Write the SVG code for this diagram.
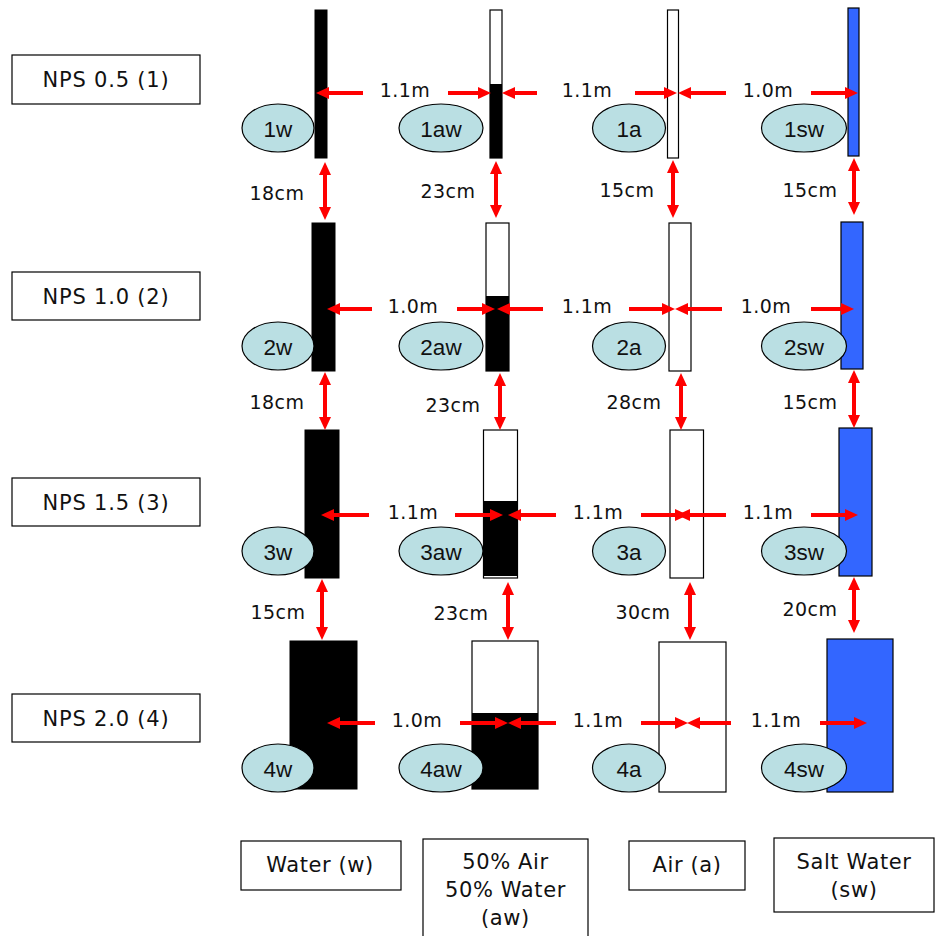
<svg xmlns="http://www.w3.org/2000/svg" width="935" height="936" viewBox="0 0 935 936">
<style>
.bg{fill:#fff}
.box{fill:#fff;stroke:#000;stroke-width:1.2}
.nps{font-family:"DejaVu Sans",Verdana,sans-serif;font-size:21px;letter-spacing:0.8px;fill:#111;text-anchor:middle}
.mat{font-family:"DejaVu Sans",Verdana,sans-serif;font-size:21px;letter-spacing:0.6px;fill:#111;text-anchor:middle}
.tw{fill:#000;stroke:#000;stroke-width:1}
.ta{fill:#fff;stroke:#000;stroke-width:1.2}
.tb{fill:#000}
.ts{fill:#3366FF;stroke:#000;stroke-width:1.2}
.ell{fill:#BADFE3;stroke:#000;stroke-width:1.2}
.lbl{font-family:"Liberation Sans",Arial,sans-serif;font-size:22.5px;fill:#111;text-anchor:middle}
.arr{stroke:#f00;stroke-width:4;fill:none}
.h{marker-end:url(#ah)}
.v{marker-start:url(#ah);marker-end:url(#ah)}
.dim{font-family:"DejaVu Sans",Verdana,sans-serif;font-size:19px;letter-spacing:0.5px;fill:#111;text-anchor:middle}
</style>
<defs>
<marker id="ah" markerUnits="userSpaceOnUse" markerWidth="13" markerHeight="12" viewBox="0 0 13 12" refX="3" refY="6" orient="auto-start-reverse"><path d="M0,0 L13,6 L0,12 z" fill="#f00"/></marker>
</defs>
<rect class="bg" x="0" y="0" width="935" height="936"/>

<g id="row-labels">
<g id="nps05"><rect class="box" x="12" y="55" width="188" height="49"/><text class="nps" x="106" y="87">NPS 0.5 (1)</text></g>
<g id="nps10"><rect class="box" x="12" y="272" width="188" height="48"/><text class="nps" x="106" y="304">NPS 1.0 (2)</text></g>
<g id="nps15"><rect class="box" x="12" y="478" width="188" height="48"/><text class="nps" x="106" y="510">NPS 1.5 (3)</text></g>
<g id="nps20"><rect class="box" x="12" y="694" width="188" height="48"/><text class="nps" x="106" y="726">NPS 2.0 (4)</text></g>
</g>

<g id="legend">
<g id="leg-w"><rect class="box" x="241" y="841" width="160" height="49"/><text class="mat" x="320" y="872">Water (w)</text></g>
<g id="leg-aw"><rect class="box" x="423" y="839" width="165" height="100"/><text class="mat" x="505.5" y="869">50% Air</text><text class="mat" x="505.5" y="897">50% Water</text><text class="mat" x="505.5" y="925">(aw)</text></g>
<g id="leg-a"><rect class="box" x="629" y="841" width="116" height="49"/><text class="mat" x="687" y="872">Air (a)</text></g>
<g id="leg-sw"><rect class="box" x="774" y="838" width="160" height="74"/><text class="mat" x="854" y="869">Salt Water</text><text class="mat" x="854" y="897">(sw)</text></g>
</g>

<g id="n1w"><rect class="tw" x="315" y="10" width="12" height="148"/><ellipse class="ell" cx="278" cy="128" rx="36" ry="24"/><text class="lbl" x="278" y="137">1w</text></g>
<g id="n1aw"><rect class="ta" x="490" y="10" width="12" height="148"/><rect class="tb" x="490" y="84" width="12" height="74"/><ellipse class="ell" cx="441" cy="128" rx="42" ry="24"/><text class="lbl" x="441" y="137">1aw</text></g>
<g id="n1a"><rect class="ta" x="667.5" y="10" width="11" height="148"/><ellipse class="ell" cx="629" cy="128" rx="36.5" ry="24"/><text class="lbl" x="629" y="137">1a</text></g>
<g id="n1sw"><rect class="ts" x="848" y="8" width="11" height="148"/><ellipse class="ell" cx="804" cy="128" rx="42.5" ry="24"/><text class="lbl" x="804" y="137">1sw</text></g>

<g id="n2w"><rect class="tw" x="312" y="223" width="23" height="148"/><ellipse class="ell" cx="278" cy="346" rx="36" ry="24"/><text class="lbl" x="278" y="355">2w</text></g>
<g id="n2aw"><rect class="ta" x="486" y="223" width="23" height="148"/><rect class="tb" x="486" y="296" width="23" height="75"/><ellipse class="ell" cx="441" cy="346" rx="42" ry="24"/><text class="lbl" x="441" y="355">2aw</text></g>
<g id="n2a"><rect class="ta" x="669" y="223" width="22" height="148"/><ellipse class="ell" cx="629" cy="346" rx="36.5" ry="24"/><text class="lbl" x="629" y="355">2a</text></g>
<g id="n2sw"><rect class="ts" x="841" y="222" width="22" height="147"/><ellipse class="ell" cx="804" cy="346" rx="42.5" ry="24"/><text class="lbl" x="804" y="355">2sw</text></g>

<g id="n3w"><rect class="tw" x="305" y="430" width="34" height="148"/><ellipse class="ell" cx="278" cy="551" rx="36" ry="24"/><text class="lbl" x="278" y="560">3w</text></g>
<g id="n3aw"><rect class="ta" x="483.5" y="430" width="34" height="148"/><rect class="tb" x="483.5" y="501" width="34" height="75"/><ellipse class="ell" cx="441" cy="551" rx="42" ry="24"/><text class="lbl" x="441" y="560">3aw</text></g>
<g id="n3a"><rect class="ta" x="670" y="430" width="33.5" height="148"/><ellipse class="ell" cx="629" cy="551" rx="36.5" ry="24"/><text class="lbl" x="629" y="560">3a</text></g>
<g id="n3sw"><rect class="ts" x="839" y="428" width="33" height="148"/><ellipse class="ell" cx="804" cy="551" rx="42.5" ry="24"/><text class="lbl" x="804" y="560">3sw</text></g>

<g id="n4w"><rect class="tw" x="290" y="641" width="67" height="148"/><ellipse class="ell" cx="278" cy="768" rx="36" ry="24"/><text class="lbl" x="278" y="777">4w</text></g>
<g id="n4aw"><rect class="ta" x="472" y="641" width="66" height="148"/><rect class="tb" x="472" y="713" width="66" height="76"/><ellipse class="ell" cx="441" cy="768" rx="42" ry="24"/><text class="lbl" x="441" y="777">4aw</text></g>
<g id="n4a"><rect class="ta" x="659" y="642" width="67" height="150"/><ellipse class="ell" cx="629" cy="768" rx="36.5" ry="24"/><text class="lbl" x="629" y="777">4a</text></g>
<g id="n4sw"><rect class="ts" x="827" y="639" width="66" height="153"/><ellipse class="ell" cx="804" cy="768" rx="42.5" ry="24"/><text class="lbl" x="804" y="777">4sw</text></g>

<g id="connectors">
<line class="arr h" x1="363" y1="93" x2="326" y2="93"/>
<line class="arr h" x1="448" y1="93" x2="481" y2="93"/>
<line class="arr h" x1="537" y1="93" x2="512" y2="93"/>
<line class="arr h" x1="635" y1="93" x2="667" y2="93"/>
<line class="arr h" x1="726" y1="93" x2="688" y2="93"/>
<line class="arr h" x1="811" y1="93" x2="848" y2="93"/>

<line class="arr h" x1="372" y1="309" x2="337" y2="309"/>
<line class="arr h" x1="457" y1="309" x2="485" y2="309"/>
<line class="arr h" x1="543" y1="309" x2="507" y2="309"/>
<line class="arr h" x1="629" y1="309" x2="665" y2="309"/>
<line class="arr h" x1="722" y1="309" x2="685" y2="309"/>
<line class="arr h" x1="811" y1="309" x2="844" y2="309"/>

<line class="arr h" x1="369" y1="515" x2="331" y2="515"/>
<line class="arr h" x1="455" y1="515" x2="493" y2="515"/>
<line class="arr h" x1="556" y1="515" x2="518" y2="515"/>
<line class="arr h" x1="641" y1="515" x2="678" y2="515"/>
<line class="arr h" x1="726" y1="515" x2="687" y2="515"/>
<line class="arr h" x1="811" y1="515" x2="848" y2="515"/>

<line class="arr h" x1="375" y1="723" x2="337" y2="723"/>
<line class="arr h" x1="460" y1="723" x2="498" y2="723"/>
<line class="arr h" x1="556" y1="723" x2="518" y2="723"/>
<line class="arr h" x1="641" y1="723" x2="678" y2="723"/>
<line class="arr h" x1="731" y1="723" x2="697" y2="723"/>
<line class="arr h" x1="820" y1="723" x2="857" y2="723"/>

<line class="arr v" x1="325" y1="172" x2="325" y2="210"/>
<line class="arr v" x1="325" y1="382" x2="325" y2="420"/>
<line class="arr v" x1="322" y1="589" x2="322" y2="630"/>
<line class="arr v" x1="496" y1="171" x2="496" y2="208"/>
<line class="arr v" x1="500" y1="383" x2="500" y2="420"/>
<line class="arr v" x1="508" y1="592" x2="508" y2="630"/>
<line class="arr v" x1="673" y1="170" x2="673" y2="208"/>
<line class="arr v" x1="681" y1="383" x2="681" y2="420"/>
<line class="arr v" x1="690" y1="592" x2="690" y2="630"/>
<line class="arr v" x1="854" y1="168" x2="854" y2="205"/>
<line class="arr v" x1="854" y1="380" x2="854" y2="418"/>
<line class="arr v" x1="854" y1="587" x2="854" y2="623"/>

<text class="dim" x="405" y="97">1.1m</text>
<text class="dim" x="587" y="97">1.1m</text>
<text class="dim" x="768" y="97">1.0m</text>
<text class="dim" x="413" y="313">1.0m</text>
<text class="dim" x="587" y="313">1.1m</text>
<text class="dim" x="766" y="313">1.0m</text>
<text class="dim" x="413" y="519">1.1m</text>
<text class="dim" x="598" y="519">1.1m</text>
<text class="dim" x="768" y="519">1.1m</text>
<text class="dim" x="417" y="727">1.0m</text>
<text class="dim" x="598" y="727">1.1m</text>
<text class="dim" x="776" y="727">1.1m</text>

<text class="dim" x="277" y="200">18cm</text>
<text class="dim" x="448" y="198">23cm</text>
<text class="dim" x="627" y="197">15cm</text>
<text class="dim" x="810" y="197">15cm</text>
<text class="dim" x="277" y="409">18cm</text>
<text class="dim" x="453" y="412">23cm</text>
<text class="dim" x="634" y="409">28cm</text>
<text class="dim" x="810" y="409">15cm</text>
<text class="dim" x="278" y="619">15cm</text>
<text class="dim" x="461" y="620">23cm</text>
<text class="dim" x="643" y="619">30cm</text>
<text class="dim" x="810" y="616">20cm</text>
</g>
</svg>
